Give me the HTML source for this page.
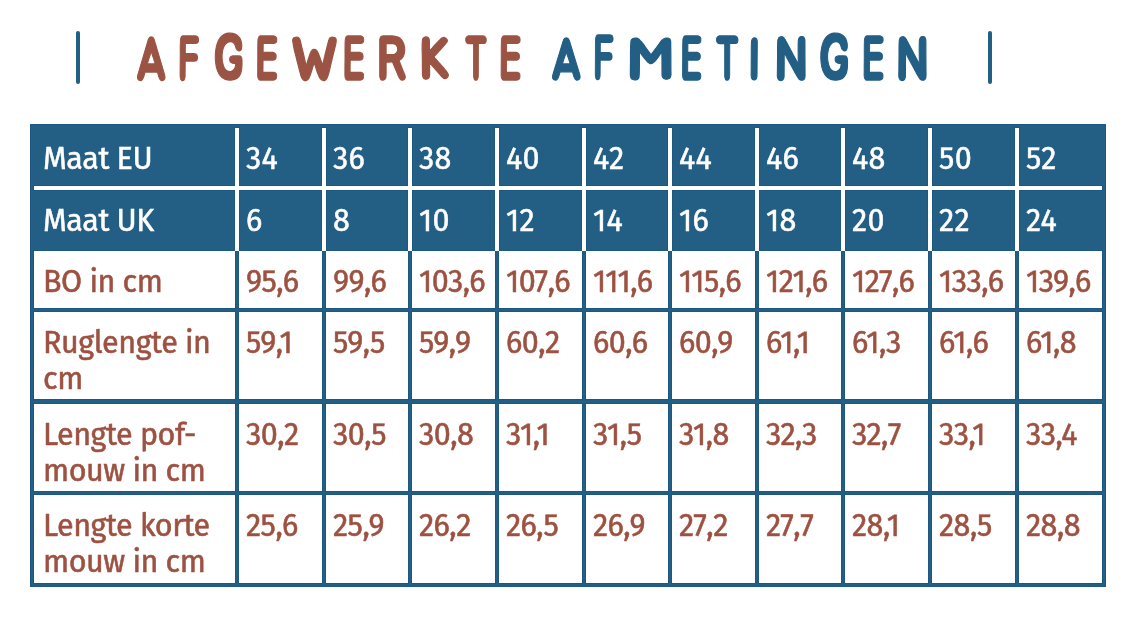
<!DOCTYPE html>
<html lang="nl"><head><meta charset="utf-8"><title>Afgewerkte afmetingen</title>
<style>
html,body{margin:0;padding:0;background:#fff;}
body{width:1146px;height:640px;position:relative;overflow:hidden;}
.bar{position:absolute;top:31px;width:4px;height:53px;background:#235e84;border-radius:2px;}
.tbl{position:absolute;left:30px;top:124px;width:1076px;height:463px;background:#235e84;box-shadow:inset 0 0 0 1px #1c5881;}
.dk{position:absolute;background:#1c5881;z-index:1;}
.wl{position:absolute;background:#fff;z-index:2;}
.c{position:absolute;font-family:"Fira Sans","Liberation Sans",sans-serif;font-size:30.5px;line-height:36px;}
.c span{position:absolute;top:13px;white-space:nowrap;-webkit-text-stroke:0.5px currentColor;}
.h{background:#235e84;color:#fff;}
.b{background:#fff;color:#9d5141;box-shadow:0 0 0 1px #1c5881;}
.b span{-webkit-text-stroke:0.55px currentColor;}
.title{position:absolute;left:0;top:0;}
</style></head><body>
<div class="bar" style="left:76px"></div>
<div class="bar" style="left:988px"></div>
<svg class="title" width="1146" height="110" viewBox="0 0 1146 110" font-family="Jua, 'Liberation Sans', sans-serif" font-size="100" font-weight="bold" style="font-synthesis:none" stroke-width="1.2" stroke-linejoin="round"><g fill="#9b5444" stroke="#9b5444"><text vector-effect="non-scaling-stroke" transform="matrix(0.4435 0 0 0.5931 135.83 79.61)">A</text><text vector-effect="non-scaling-stroke" transform="matrix(0.3875 0 0 0.6211 178.55 79.68)">F</text><text vector-effect="non-scaling-stroke" transform="matrix(0.5057 0 0 0.6384 213.28 79.26)">G</text><text vector-effect="non-scaling-stroke" transform="matrix(0.4085 0 0 0.6278 255.97 79.97)">E</text><text vector-effect="non-scaling-stroke" transform="matrix(0.6083 0 0 0.5959 290.17 79.70)">W</text><text vector-effect="non-scaling-stroke" transform="matrix(0.4021 0 0 0.6222 343.19 79.78)">E</text><text vector-effect="non-scaling-stroke" transform="matrix(0.4942 0 0 0.6155 377.72 79.68)">R</text><text vector-effect="non-scaling-stroke" transform="matrix(0.5367 0 0 0.5730 420.05 78.75)">K</text><text vector-effect="non-scaling-stroke" transform="matrix(0.3649 0 0 0.6155 464.34 80.30)">T</text><text vector-effect="non-scaling-stroke" transform="matrix(0.4043 0 0 0.6194 499.38 79.68)">E</text></g><g fill="#235e84" stroke="#235e84"><text vector-effect="non-scaling-stroke" transform="matrix(0.4452 0 0 0.5903 550.72 79.41)">A</text><text vector-effect="non-scaling-stroke" transform="matrix(0.3729 0 0 0.6169 593.71 79.38)">F</text><text vector-effect="non-scaling-stroke" transform="matrix(0.6656 0 0 0.5878 627.74 78.52)">M</text><text vector-effect="non-scaling-stroke" transform="matrix(0.3915 0 0 0.6208 681.03 79.68)">E</text><text vector-effect="non-scaling-stroke" transform="matrix(0.3807 0 0 0.6155 714.98 80.30)">T</text><text vector-effect="non-scaling-stroke" transform="matrix(0.4429 0 0 0.5740 748.00 79.43)">I</text><text vector-effect="non-scaling-stroke" transform="matrix(0.5109 0 0 0.6110 775.26 79.69)">N</text><text vector-effect="non-scaling-stroke" transform="matrix(0.5057 0 0 0.6356 818.78 79.06)">G</text><text vector-effect="non-scaling-stroke" transform="matrix(0.4043 0 0 0.6194 862.38 79.68)">E</text><text vector-effect="non-scaling-stroke" transform="matrix(0.5018 0 0 0.6110 896.79 79.69)">N</text></g></svg>
<div class="tbl"></div>
<div class="dk" style="left:33px;top:185px;width:1070px;height:6px"></div>
<div class="dk" style="left:234px;top:127px;width:6px;height:124px"></div>
<div class="dk" style="left:321px;top:127px;width:6px;height:124px"></div>
<div class="dk" style="left:407px;top:127px;width:6px;height:124px"></div>
<div class="dk" style="left:494px;top:127px;width:6px;height:124px"></div>
<div class="dk" style="left:581px;top:127px;width:6px;height:124px"></div>
<div class="dk" style="left:667px;top:127px;width:6px;height:124px"></div>
<div class="dk" style="left:754px;top:127px;width:6px;height:124px"></div>
<div class="dk" style="left:840px;top:127px;width:6px;height:124px"></div>
<div class="dk" style="left:927px;top:127px;width:6px;height:124px"></div>
<div class="dk" style="left:1014px;top:127px;width:6px;height:124px"></div>
<div class="wl" style="left:34px;top:186px;width:1068px;height:4px"></div>
<div class="wl" style="left:235px;top:128px;width:4px;height:123px"></div>
<div class="wl" style="left:322px;top:128px;width:4px;height:123px"></div>
<div class="wl" style="left:408px;top:128px;width:4px;height:123px"></div>
<div class="wl" style="left:495px;top:128px;width:4px;height:123px"></div>
<div class="wl" style="left:582px;top:128px;width:4px;height:123px"></div>
<div class="wl" style="left:668px;top:128px;width:4px;height:123px"></div>
<div class="wl" style="left:755px;top:128px;width:4px;height:123px"></div>
<div class="wl" style="left:841px;top:128px;width:4px;height:123px"></div>
<div class="wl" style="left:928px;top:128px;width:4px;height:123px"></div>
<div class="wl" style="left:1015px;top:128px;width:4px;height:123px"></div>
<div class="c h" style="left:34px;top:128px;width:201px;height:58px"><span style="left:9px;letter-spacing:-0.45px">Maat EU</span></div>
<div class="c h" style="left:239px;top:128px;width:83px;height:58px"><span style="left:7px;letter-spacing:0.35px">34</span></div>
<div class="c h" style="left:326px;top:128px;width:82px;height:58px"><span style="left:7px;letter-spacing:0.35px">36</span></div>
<div class="c h" style="left:412px;top:128px;width:83px;height:58px"><span style="left:7px;letter-spacing:0.35px">38</span></div>
<div class="c h" style="left:499px;top:128px;width:83px;height:58px"><span style="left:7px;letter-spacing:0.35px">40</span></div>
<div class="c h" style="left:586px;top:128px;width:82px;height:58px"><span style="left:7px;letter-spacing:0.35px">42</span></div>
<div class="c h" style="left:672px;top:128px;width:83px;height:58px"><span style="left:7px;letter-spacing:0.35px">44</span></div>
<div class="c h" style="left:759px;top:128px;width:82px;height:58px"><span style="left:7px;letter-spacing:0.35px">46</span></div>
<div class="c h" style="left:845px;top:128px;width:83px;height:58px"><span style="left:7px;letter-spacing:0.35px">48</span></div>
<div class="c h" style="left:932px;top:128px;width:83px;height:58px"><span style="left:7px;letter-spacing:0.35px">50</span></div>
<div class="c h" style="left:1019px;top:128px;width:83px;height:58px"><span style="left:7px;letter-spacing:0.35px">52</span></div>
<div class="c h" style="left:34px;top:190px;width:201px;height:61px"><span style="left:9px;letter-spacing:-0.45px">Maat UK</span></div>
<div class="c h" style="left:239px;top:190px;width:83px;height:61px"><span style="left:7px;letter-spacing:0.35px">6</span></div>
<div class="c h" style="left:326px;top:190px;width:82px;height:61px"><span style="left:7px;letter-spacing:0.35px">8</span></div>
<div class="c h" style="left:412px;top:190px;width:83px;height:61px"><span style="left:7px;letter-spacing:0.35px">10</span></div>
<div class="c h" style="left:499px;top:190px;width:83px;height:61px"><span style="left:7px;letter-spacing:0.35px">12</span></div>
<div class="c h" style="left:586px;top:190px;width:82px;height:61px"><span style="left:7px;letter-spacing:0.35px">14</span></div>
<div class="c h" style="left:672px;top:190px;width:83px;height:61px"><span style="left:7px;letter-spacing:0.35px">16</span></div>
<div class="c h" style="left:759px;top:190px;width:82px;height:61px"><span style="left:7px;letter-spacing:0.35px">18</span></div>
<div class="c h" style="left:845px;top:190px;width:83px;height:61px"><span style="left:7px;letter-spacing:0.35px">20</span></div>
<div class="c h" style="left:932px;top:190px;width:83px;height:61px"><span style="left:7px;letter-spacing:0.35px">22</span></div>
<div class="c h" style="left:1019px;top:190px;width:83px;height:61px"><span style="left:7px;letter-spacing:0.35px">24</span></div>
<div class="c b" style="left:34px;top:251px;width:201px;height:57px"><span style="left:9px;letter-spacing:-0.45px">BO in cm</span></div>
<div class="c b" style="left:239px;top:251px;width:83px;height:57px"><span style="left:7px;letter-spacing:-0.5px">95,6</span></div>
<div class="c b" style="left:326px;top:251px;width:82px;height:57px"><span style="left:7px;letter-spacing:-0.5px">99,6</span></div>
<div class="c b" style="left:412px;top:251px;width:83px;height:57px"><span style="left:7px;letter-spacing:-0.5px">103,6</span></div>
<div class="c b" style="left:499px;top:251px;width:83px;height:57px"><span style="left:7px;letter-spacing:-0.5px">107,6</span></div>
<div class="c b" style="left:586px;top:251px;width:82px;height:57px"><span style="left:7px;letter-spacing:-0.5px">111,6</span></div>
<div class="c b" style="left:672px;top:251px;width:83px;height:57px"><span style="left:7px;letter-spacing:-0.5px">115,6</span></div>
<div class="c b" style="left:759px;top:251px;width:82px;height:57px"><span style="left:7px;letter-spacing:-0.5px">121,6</span></div>
<div class="c b" style="left:845px;top:251px;width:83px;height:57px"><span style="left:7px;letter-spacing:-0.5px">127,6</span></div>
<div class="c b" style="left:932px;top:251px;width:83px;height:57px"><span style="left:7px;letter-spacing:-0.5px">133,6</span></div>
<div class="c b" style="left:1019px;top:251px;width:83px;height:57px"><span style="left:7px;letter-spacing:-0.5px">139,6</span></div>
<div class="c b" style="left:34px;top:312px;width:201px;height:87px"><span style="left:9px;letter-spacing:-0.45px">Ruglengte in<br>cm</span></div>
<div class="c b" style="left:239px;top:312px;width:83px;height:87px"><span style="left:7px;letter-spacing:-0.5px">59,1</span></div>
<div class="c b" style="left:326px;top:312px;width:82px;height:87px"><span style="left:7px;letter-spacing:-0.5px">59,5</span></div>
<div class="c b" style="left:412px;top:312px;width:83px;height:87px"><span style="left:7px;letter-spacing:-0.5px">59,9</span></div>
<div class="c b" style="left:499px;top:312px;width:83px;height:87px"><span style="left:7px;letter-spacing:-0.5px">60,2</span></div>
<div class="c b" style="left:586px;top:312px;width:82px;height:87px"><span style="left:7px;letter-spacing:-0.5px">60,6</span></div>
<div class="c b" style="left:672px;top:312px;width:83px;height:87px"><span style="left:7px;letter-spacing:-0.5px">60,9</span></div>
<div class="c b" style="left:759px;top:312px;width:82px;height:87px"><span style="left:7px;letter-spacing:-0.5px">61,1</span></div>
<div class="c b" style="left:845px;top:312px;width:83px;height:87px"><span style="left:7px;letter-spacing:-0.5px">61,3</span></div>
<div class="c b" style="left:932px;top:312px;width:83px;height:87px"><span style="left:7px;letter-spacing:-0.5px">61,6</span></div>
<div class="c b" style="left:1019px;top:312px;width:83px;height:87px"><span style="left:7px;letter-spacing:-0.5px">61,8</span></div>
<div class="c b" style="left:34px;top:404px;width:201px;height:87px"><span style="left:9px;letter-spacing:-0.45px">Lengte pof-<br>mouw in cm</span></div>
<div class="c b" style="left:239px;top:404px;width:83px;height:87px"><span style="left:7px;letter-spacing:-0.5px">30,2</span></div>
<div class="c b" style="left:326px;top:404px;width:82px;height:87px"><span style="left:7px;letter-spacing:-0.5px">30,5</span></div>
<div class="c b" style="left:412px;top:404px;width:83px;height:87px"><span style="left:7px;letter-spacing:-0.5px">30,8</span></div>
<div class="c b" style="left:499px;top:404px;width:83px;height:87px"><span style="left:7px;letter-spacing:-0.5px">31,1</span></div>
<div class="c b" style="left:586px;top:404px;width:82px;height:87px"><span style="left:7px;letter-spacing:-0.5px">31,5</span></div>
<div class="c b" style="left:672px;top:404px;width:83px;height:87px"><span style="left:7px;letter-spacing:-0.5px">31,8</span></div>
<div class="c b" style="left:759px;top:404px;width:82px;height:87px"><span style="left:7px;letter-spacing:-0.5px">32,3</span></div>
<div class="c b" style="left:845px;top:404px;width:83px;height:87px"><span style="left:7px;letter-spacing:-0.5px">32,7</span></div>
<div class="c b" style="left:932px;top:404px;width:83px;height:87px"><span style="left:7px;letter-spacing:-0.5px">33,1</span></div>
<div class="c b" style="left:1019px;top:404px;width:83px;height:87px"><span style="left:7px;letter-spacing:-0.5px">33,4</span></div>
<div class="c b" style="left:34px;top:495px;width:201px;height:88px"><span style="left:9px;letter-spacing:-0.45px">Lengte korte<br>mouw in cm</span></div>
<div class="c b" style="left:239px;top:495px;width:83px;height:88px"><span style="left:7px;letter-spacing:-0.5px">25,6</span></div>
<div class="c b" style="left:326px;top:495px;width:82px;height:88px"><span style="left:7px;letter-spacing:-0.5px">25,9</span></div>
<div class="c b" style="left:412px;top:495px;width:83px;height:88px"><span style="left:7px;letter-spacing:-0.5px">26,2</span></div>
<div class="c b" style="left:499px;top:495px;width:83px;height:88px"><span style="left:7px;letter-spacing:-0.5px">26,5</span></div>
<div class="c b" style="left:586px;top:495px;width:82px;height:88px"><span style="left:7px;letter-spacing:-0.5px">26,9</span></div>
<div class="c b" style="left:672px;top:495px;width:83px;height:88px"><span style="left:7px;letter-spacing:-0.5px">27,2</span></div>
<div class="c b" style="left:759px;top:495px;width:82px;height:88px"><span style="left:7px;letter-spacing:-0.5px">27,7</span></div>
<div class="c b" style="left:845px;top:495px;width:83px;height:88px"><span style="left:7px;letter-spacing:-0.5px">28,1</span></div>
<div class="c b" style="left:932px;top:495px;width:83px;height:88px"><span style="left:7px;letter-spacing:-0.5px">28,5</span></div>
<div class="c b" style="left:1019px;top:495px;width:83px;height:88px"><span style="left:7px;letter-spacing:-0.5px">28,8</span></div>
</body></html>
